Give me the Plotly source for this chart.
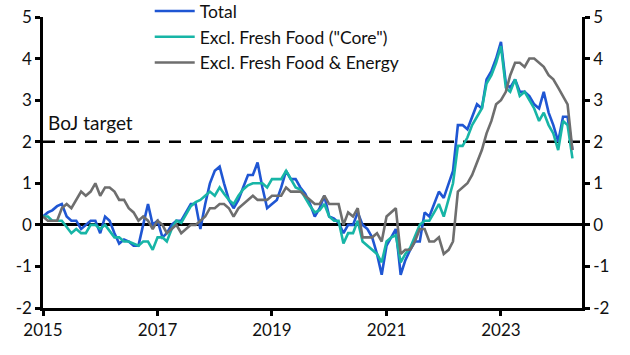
import pandas as pd
import plotly.graph_objects as go

# ---------------- data ----------------
months = pd.date_range("2015-01-01", periods=112, freq="MS")

series_names = ["Total", "Excl. Fresh Food (\"Core\")", "Excl. Fresh Food & Energy"]

total = [
    0.2, 0.3, 0.35, 0.45, 0.5, 0.2, 0.1, 0.1, -0.1, 0.0, 0.1, 0.1,          # 2015
    -0.2, 0.2, 0.1, -0.2, -0.45, -0.35, -0.4, -0.5, -0.5, 0.0, 0.5, 0.0,    # 2016
    0.1, -0.3, -0.2, 0.0, 0.1, 0.1, 0.3, 0.5, 0.5, -0.1, 0.5, 1.0,          # 2017
    1.3, 1.4, 1.0, 0.6, 0.4, 0.6, 0.9, 1.2, 1.2, 1.5, 0.9, 0.4,             # 2018
    0.5, 0.6, 0.9, 1.3, 1.1, 1.1, 0.9, 0.75, 0.5, 0.2, 0.4, 0.7,            # 2019
    0.2, 0.15, 0.05, -0.2, 0.0, 0.0, 0.3, 0.0, -0.1, -0.3, -0.7, -1.2,      # 2020
    -0.5, -0.3, -0.1, -1.2, -0.85, -0.6, -0.4, -0.4, 0.3, 0.2, 0.5, 0.8,    # 2021
    0.65, 1.0, 1.3, 2.4, 2.4, 2.3, 2.6, 2.9, 2.8, 3.5, 3.7, 4.0,            # 2022
    4.4, 3.4, 3.3, 3.5, 3.2, 3.2, 3.1, 2.9, 2.8, 3.2, 2.7, 2.4,             # 2023
    2.0, 2.6, 2.6, 1.8,                                                     # 2024
]

core = [
    0.2, 0.2, 0.1, 0.1, 0.1, -0.05, -0.2, -0.1, -0.2, -0.2, 0.0, 0.0,       # 2015
    -0.1, 0.0, -0.15, -0.3, -0.3, -0.4, -0.4, -0.45, -0.5, -0.4, -0.4, -0.6,  # 2016
    -0.3, -0.3, -0.4, -0.1, 0.1, 0.05, 0.25, 0.45, 0.55, 0.6, 0.7, 0.8,     # 2017
    0.7, 0.9, 0.75, 0.6, 0.5, 0.7, 0.85, 0.95, 1.0, 1.0, 1.0, 0.9,          # 2018
    1.1, 1.1, 1.1, 1.3, 1.1, 0.9, 0.85, 0.65, 0.45, 0.3, 0.35, 0.5,         # 2019
    0.2, 0.1, 0.1, -0.45, -0.2, -0.2, 0.1, -0.4, -0.5, -0.6, -0.7, -0.9,    # 2020
    -0.4, -0.3, -0.25, -0.9, -0.7, -0.55, -0.3, 0.0, 0.1, 0.1, 0.3, 0.5,    # 2021
    0.2, 0.6, 1.0, 1.9, 1.9, 2.1, 2.4, 2.6, 2.8, 3.4, 3.6, 3.9,             # 2022
    4.3, 3.3, 3.2, 3.5, 3.1, 3.2, 3.0, 2.8, 2.5, 2.7, 2.4, 2.2,             # 2023
    1.8, 2.5, 2.4, 1.6,                                                     # 2024
]

core_core = [
    0.2, 0.1, 0.1, 0.1, 0.4, 0.5, 0.4, 0.6, 0.8, 0.7, 0.8, 1.0,             # 2015
    0.7, 0.9, 0.9, 0.8, 0.6, 0.6, 0.4, 0.3, 0.1, 0.2, 0.1, -0.1,            # 2016
    0.1, 0.0, -0.2, -0.1, 0.0, -0.2, -0.1, 0.0, 0.0, 0.1, 0.2, 0.4,         # 2017
    0.4, 0.5, 0.5, 0.4, 0.2, 0.4, 0.5, 0.6, 0.7, 0.6, 0.6, 0.6,             # 2018
    0.7, 0.7, 0.7, 0.9, 0.8, 0.8, 0.8, 0.7, 0.6, 0.5, 0.5, 0.7,             # 2019
    0.5, 0.5, 0.5, 0.0, 0.3, 0.2, 0.4, -0.3, -0.3, -0.3, -0.2, -0.4,        # 2020
    0.2, 0.3, 0.4, -0.7, -0.6, -0.6, -0.4, -0.1, -0.1, -0.4, -0.4, -0.3,    # 2021
    -0.7, -0.6, -0.4, 0.8, 0.9, 1.0, 1.2, 1.5, 1.8, 2.2, 2.5, 2.9,          # 2022
    3.0, 3.2, 3.6, 3.9, 3.9, 3.8, 4.0, 4.0, 3.9, 3.8, 3.6, 3.5,             # 2023
    3.3, 3.1, 2.9, 1.8,                                                     # 2024
]

y_tick_vals = [-2, -1, 0, 1, 2, 3, 4, 5]
y_tick_text = ["-2", "-1", "0", "1", "2", "3", "4", "5"]
x_tick_vals = ["2015-01-01", "2017-01-01", "2019-01-01", "2021-01-01", "2023-01-01"]
x_tick_text = ["2015", "2017", "2019", "2021", "2023"]
x_range = ["2015-01-01", "2024-06-01"]
y_range = [-2, 5]
boj_target = 2
boj_label = "BoJ target"

# ---------------- styling ----------------
colors = ["#1f56d3", "#17b5a6", "#6e6e6e"]
FONT = "Lato, 'Open Sans', sans-serif"
INK = "#111111"

fig = go.Figure()
for name, vals, col in zip(series_names, [total, core, core_core], colors):
    fig.add_trace(go.Scatter(x=months, y=vals, name=name, mode="lines",
                             line=dict(color=col, width=2.6)))

# invisible twin so that the right-hand axis is drawn
fig.add_trace(go.Scatter(x=months, y=core_core, yaxis="y2", mode="lines",
                         line=dict(width=0), opacity=0, showlegend=False,
                         hoverinfo="skip"))

fig.add_shape(type="line", xref="paper", x0=0, x1=1, yref="y", y0=boj_target, y1=boj_target,
              line=dict(color="black", width=2.5, dash="12px,9px"), layer="below")

fig.add_annotation(xref="paper", x=0, xshift=3, xanchor="left",
                   yref="y", y=boj_target, yanchor="bottom", yshift=6,
                   text=boj_label, showarrow=False,
                   font=dict(family=FONT, size=19, color=INK))

axis_common = dict(showgrid=False, showline=True, linecolor="black", linewidth=2.5,
                   ticks="outside", ticklen=5, tickwidth=2.5, tickcolor="black",
                   ticklabeloverflow="allow",
                   tickfont=dict(family=FONT, size=17, color=INK))

fig.update_layout(
    width=630, height=355,
    margin=dict(l=43, r=48, t=17, b=47, autoexpand=False),
    paper_bgcolor="white", plot_bgcolor="white",
    font=dict(family=FONT, size=17, color=INK),
    showlegend=True,
    legend=dict(x=0.198, y=1.082, xanchor="left", yanchor="top",
                bgcolor="rgba(0,0,0,0)", borderwidth=0,
                font=dict(family=FONT, size=17.5, color=INK),
                tracegroupgap=0, itemwidth=40),
    xaxis=dict(range=x_range, tickvals=x_tick_vals, ticktext=x_tick_text,
               zeroline=False, **axis_common),
    yaxis=dict(range=y_range, tickvals=y_tick_vals, ticktext=y_tick_text,
               zeroline=True, zerolinecolor="black", zerolinewidth=2.5,
               **axis_common),
    yaxis2=dict(range=y_range, tickvals=y_tick_vals, ticktext=y_tick_text,
                overlaying="y", side="right", zeroline=False, **axis_common),
)

fig.write_html("out.html", config={"displayModeBar": False},
               post_script="document.body.style.margin='0';")
